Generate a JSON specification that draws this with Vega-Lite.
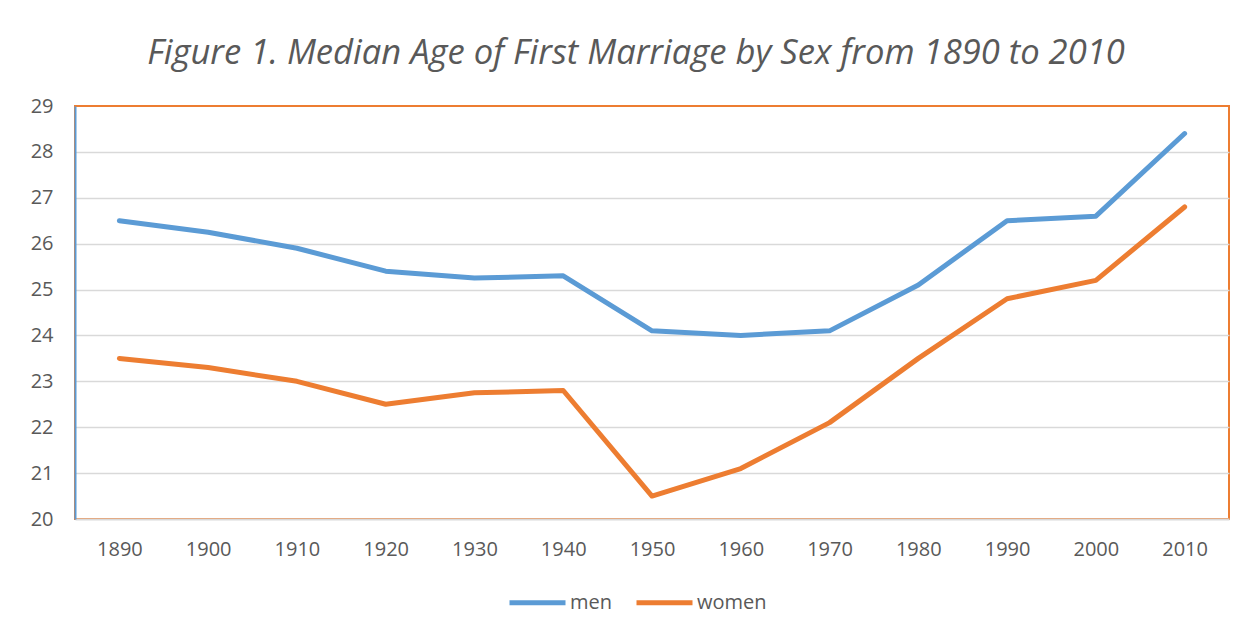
{
  "$schema": "https://vega.github.io/schema/vega-lite/v6.json",
  "autosize": {"type": "none"},
  "width": 1154,
  "height": 413,
  "padding": {"left": 75, "top": 106, "right": 27, "bottom": 118},
  "background": "white",
  "title": {
    "text": "Figure 1. Median Age of First Marriage by Sex from 1890 to 2010",
    "font": "Open Sans",
    "fontSize": 34.6,
    "fontStyle": "italic",
    "fontWeight": "normal",
    "color": "#595959",
    "anchor": "middle",
    "dx": -16,
    "offset": 24
  },
  "config": {
    "view": {"stroke": "#ED7D31", "strokeWidth": 2},
    "font": "Open Sans"
  },
  "data": {
    "values": [
      {"year": "1890", "sex": "men", "age": 26.5},
      {"year": "1900", "sex": "men", "age": 26.25},
      {"year": "1910", "sex": "men", "age": 25.9},
      {"year": "1920", "sex": "men", "age": 25.4},
      {"year": "1930", "sex": "men", "age": 25.25},
      {"year": "1940", "sex": "men", "age": 25.3},
      {"year": "1950", "sex": "men", "age": 24.1},
      {"year": "1960", "sex": "men", "age": 24.0},
      {"year": "1970", "sex": "men", "age": 24.1},
      {"year": "1980", "sex": "men", "age": 25.1},
      {"year": "1990", "sex": "men", "age": 26.5},
      {"year": "2000", "sex": "men", "age": 26.6},
      {"year": "2010", "sex": "men", "age": 28.4},
      {"year": "1890", "sex": "women", "age": 23.5},
      {"year": "1900", "sex": "women", "age": 23.3},
      {"year": "1910", "sex": "women", "age": 23.0},
      {"year": "1920", "sex": "women", "age": 22.5},
      {"year": "1930", "sex": "women", "age": 22.75},
      {"year": "1940", "sex": "women", "age": 22.8},
      {"year": "1950", "sex": "women", "age": 20.5},
      {"year": "1960", "sex": "women", "age": 21.1},
      {"year": "1970", "sex": "women", "age": 22.1},
      {"year": "1980", "sex": "women", "age": 23.5},
      {"year": "1990", "sex": "women", "age": 24.8},
      {"year": "2000", "sex": "women", "age": 25.2},
      {"year": "2010", "sex": "women", "age": 26.8}
    ]
  },
  "mark": {"type": "line", "strokeWidth": 5, "strokeCap": "round", "strokeJoin": "round"},
  "encoding": {
    "x": {
      "field": "year",
      "type": "ordinal",
      "scale": {"type": "point", "padding": 0.5},
      "axis": {
        "title": null,
        "labelAngle": 0,
        "labelFont": "Open Sans",
        "labelFontSize": 20,
        "labelColor": "#595959",
        "labelPadding": 20,
        "ticks": false,
        "grid": false,
        "domainColor": "#D9D9D9",
        "domainWidth": 2
      }
    },
    "y": {
      "field": "age",
      "type": "quantitative",
      "scale": {"domain": [20, 29], "nice": false, "zero": false},
      "axis": {
        "title": null,
        "values": [20, 21, 22, 23, 24, 25, 26, 27, 28, 29],
        "labelFont": "Open Sans",
        "labelFontSize": 20,
        "labelColor": "#595959",
        "labelPadding": 22,
        "ticks": false,
        "domainColor": "#5B9BD5",
        "domainWidth": 2,
        "gridColor": "#D9D9D9",
        "gridWidth": 1.5,
        "gridOpacity": {"condition": {"test": "datum.value == 20 || datum.value == 29", "value": 0}, "value": 1}
      }
    },
    "color": {
      "field": "sex",
      "type": "nominal",
      "scale": {"domain": ["men", "women"], "range": ["#5B9BD5", "#ED7D31"]},
      "legend": {
        "title": null,
        "orient": "none",
        "direction": "horizontal",
        "legendX": 432,
        "legendY": 466,
        "symbolType": "stroke",
        "symbolSize": 3136,
        "symbolStrokeWidth": 5,
        "labelFont": "Open Sans",
        "labelFontSize": 20,
        "labelColor": "#595959",
        "labelOffset": 2,
        "columnPadding": 13
      }
    }
  }
}
